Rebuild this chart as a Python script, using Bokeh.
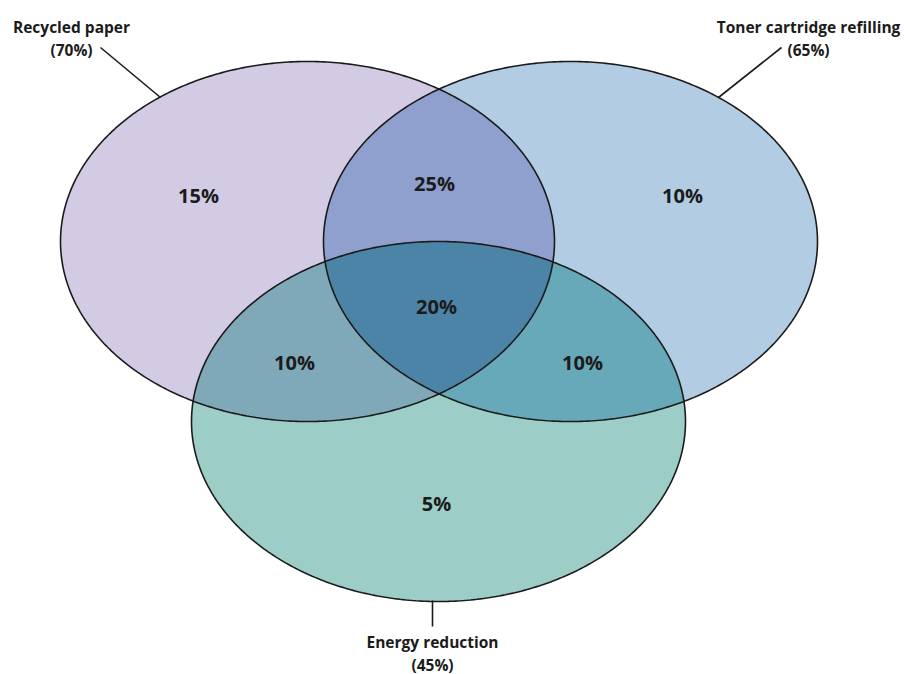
import numpy as np
from bokeh.plotting import figure
from bokeh.models import Range1d
from bokeh.embed import file_html
from bokeh.resources import INLINE
from bokeh.core.properties import value

# ---------------- data ----------------
set_names = ["Recycled paper", "Toner cartridge refilling", "Energy reduction"]
set_totals = ["70%", "65%", "45%"]
region_keys = ["100", "010", "001", "110", "101", "011", "111"]
region_values = ["15%", "10%", "5%", "25%", "10%", "10%", "20%"]

# ---------------- layout (pixel space) ----------------
W, H = 904, 674
centers = [(307, 241), (570, 241), (438, 421)]
rx, ry = 247, 180
base_colors = ["#d3cbe3", "#b2cde3", "#9dcdc7"]
overlap_colors = {"110": "#8fa0cf", "101": "#7fa8b9", "011": "#67a9b9", "111": "#4c84a8"}
region_pos = {"100": (198, 195), "010": (682, 195), "001": (436, 503),
              "110": (434, 183), "101": (294, 362), "011": (582, 362), "111": (436, 306)}
label_pos = [(71, 26), (808, 26), (432, 641)]
label_gap = 23
leader = [((100, 47), (160, 97)), ((781, 47), (718, 97)), ((432, 600), (432, 626))]

FONT = value("Open Sans")
INK = "#1b1b1b"


def ellipse_poly(cx, cy, n=480):
    t = np.linspace(0, 2 * np.pi, n, endpoint=False)
    return list(zip(cx + rx * np.cos(t), cy + ry * np.sin(t)))


def area(poly):
    s = 0.0
    for i in range(len(poly)):
        x1, y1 = poly[i]
        x2, y2 = poly[(i + 1) % len(poly)]
        s += x1 * y2 - x2 * y1
    return s / 2


def clip(subject, clipper):
    sign = 1 if area(clipper) > 0 else -1
    out = subject
    for i in range(len(clipper)):
        a = clipper[i]
        b = clipper[(i + 1) % len(clipper)]
        inp = out
        out = []
        if not inp:
            break

        def inside(p):
            return sign * ((b[0] - a[0]) * (p[1] - a[1]) - (b[1] - a[1]) * (p[0] - a[0])) >= 0

        def inter(p, q):
            x1, y1 = p; x2, y2 = q; x3, y3 = a; x4, y4 = b
            d = (x1 - x2) * (y3 - y4) - (y1 - y2) * (x3 - x4)
            t = ((x1 - x3) * (y3 - y4) - (y1 - y3) * (x3 - x4)) / d
            return (x1 + t * (x2 - x1), y1 + t * (y2 - y1))

        s = inp[-1]
        for e in inp:
            if inside(e):
                if not inside(s):
                    out.append(inter(s, e))
                out.append(e)
            elif inside(s):
                out.append(inter(s, e))
            s = e
    return out


polys = [ellipse_poly(cx, cy) for cx, cy in centers]

p = figure(width=W, height=H, x_range=Range1d(0, W), y_range=Range1d(H, 0),
           output_backend="svg", toolbar_location=None, min_border=0,
           x_axis_location=None, y_axis_location=None)
p.grid.visible = False
p.outline_line_color = None
p.background_fill_color = "white"

# base ellipses
for poly, col in zip(polys, base_colors):
    xs, ys = zip(*poly)
    p.patch(list(xs), list(ys), fill_color=col, line_color=None)

# overlaps
for key, col in overlap_colors.items():
    idx = [i for i, c in enumerate(key) if c == "1"]
    shape = polys[idx[0]]
    for j in idx[1:]:
        shape = clip(shape, polys[j])
    xs, ys = zip(*shape)
    p.patch(list(xs), list(ys), fill_color=col, line_color=None)

# outlines
for poly in polys:
    xs, ys = zip(*(poly + [poly[0]]))
    p.line(list(xs), list(ys), line_color=INK, line_width=1.6)

# leaders
p.segment(x0=[l[0][0] for l in leader], y0=[l[0][1] for l in leader],
          x1=[l[1][0] for l in leader], y1=[l[1][1] for l in leader],
          line_color=INK, line_width=1.6)

# region values
p.text(x=[region_pos[k][0] for k in region_keys], y=[region_pos[k][1] for k in region_keys],
       text=region_values, text_font=FONT, text_font_size="20px", text_font_style="bold",
       text_color=INK, text_align="center", text_baseline="middle")

# set labels
p.text(x=[q[0] for q in label_pos], y=[q[1] for q in label_pos], text=set_names,
       text_font=FONT, text_font_size="15.5px", text_font_style="bold",
       text_color=INK, text_align="center", text_baseline="middle")
p.text(x=[q[0] for q in label_pos], y=[q[1] + label_gap for q in label_pos],
       text=["(" + t + ")" for t in set_totals],
       text_font=FONT, text_font_size="15.5px", text_font_style="bold",
       text_color=INK, text_align="center", text_baseline="middle")

open("out.html", "w").write(file_html(p, INLINE))
